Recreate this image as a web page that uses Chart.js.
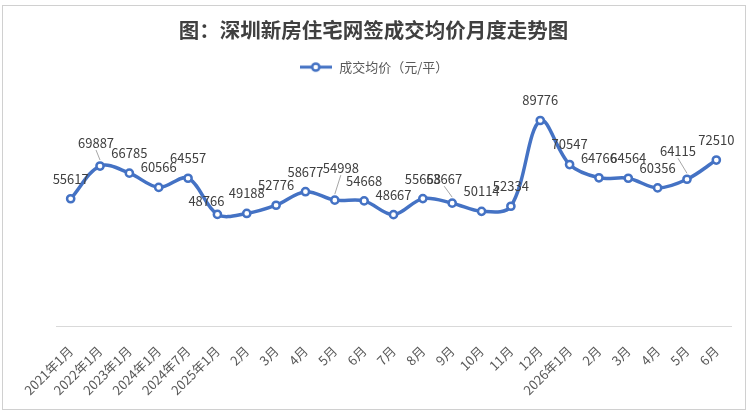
<!DOCTYPE html>
<html>
<head>
<meta charset="utf-8">
<script src="https://cdn.jsdelivr.net/npm/chart.js@4.4.1/dist/chart.umd.min.js"></script>
<style>
  html, body { margin: 0; padding: 0; background: #fff; }
  #wrap { width: 750px; height: 415px; }
</style>
</head>
<body>
<div id="wrap"><canvas id="priceChart"></canvas></div>
<script>
// data
const months = [
  "2021年1月", "2022年1月", "2023年1月", "2024年1月", "2024年7月",
  "2025年1月", "2月", "3月", "4月", "5月", "6月", "7月", "8月", "9月",
  "10月", "11月", "12月", "2026年1月", "2月", "3月", "4月", "5月", "6月"
];
const avgPrice = [
  55617, 69887, 66785, 60566, 64557,
  48766, 49188, 52776, 58677, 54998, 54668, 48667, 55668, 53667,
  50114, 52334, 89776, 70547, 64766, 64564, 60356, 64115, 72510
];
const seriesName = "成交均价（元/平）";

const blue = "#4472C4";
const font = "'Noto Sans CJK SC', 'Noto Sans', sans-serif";

// labels that excel nudged away from the default spot (index: [dx, dy, leader])
const labelNudge = {
  1: [-4, -23, true],
  5: [-11, -13, false],
  9: [6, -32, true],
  13: [-8, -24, true],
  21: [-9, -28, true]
};

// legend marker: line with hollow circle
const legendIcon = document.createElement("canvas");
legendIcon.width = 32;
legendIcon.height = 12;
(function () {
  const c = legendIcon.getContext("2d");
  c.strokeStyle = blue;
  c.lineWidth = 3;
  c.beginPath();
  c.moveTo(0, 6);
  c.lineTo(32, 6);
  c.stroke();
  c.fillStyle = "#fff";
  c.lineWidth = 2.5;
  c.beginPath();
  c.arc(16, 6, 3.6, 0, Math.PI * 2);
  c.fill();
  c.stroke();
})();

const frame = {
  id: "frame",
  beforeDraw(chart) {
    const ctx = chart.ctx;
    ctx.save();
    ctx.fillStyle = "#fff";
    ctx.fillRect(0, 0, chart.width, chart.height);
    ctx.strokeStyle = "#d0d0d0";
    ctx.lineWidth = 1;
    ctx.strokeRect(2.5, 5.5, 743, 404);
    ctx.restore();
  }
};

const legendGap = {
  id: "legendGap",
  beforeInit(chart) {
    const fit = chart.legend.fit;
    chart.legend.fit = function () {
      fit.bind(chart.legend)();
      this.height += 13.5;
    };
  }
};

const valueLabels = {
  id: "valueLabels",
  afterDatasetsDraw(chart) {
    const ctx = chart.ctx;
    const meta = chart.getDatasetMeta(0);
    ctx.save();
    ctx.font = "13px " + font;
    ctx.fillStyle = "#404040";
    ctx.textAlign = "center";
    ctx.textBaseline = "middle";
    meta.data.forEach((pt, i) => {
      const n = labelNudge[i] || [0, -20, false];
      const x = pt.x + n[0];
      const y = pt.y + n[1];
      if (n[2]) {
        ctx.strokeStyle = "#a6a6a6";
        ctx.lineWidth = 1;
        ctx.beginPath();
        ctx.moveTo(x, y + 7);
        ctx.lineTo(pt.x, pt.y - 6);
        ctx.stroke();
      }
      ctx.fillText(String(avgPrice[i]), x, y);
    });
    ctx.restore();
  }
};

const ctx = document.getElementById("priceChart").getContext("2d");
const priceChart = new Chart(ctx, {
  type: "line",
  data: {
    labels: months,
    datasets: [
      {
        label: seriesName,
        data: avgPrice,
        borderColor: blue,
        borderWidth: 3.5,
        tension: 0.35,
        pointRadius: 3.6,
        pointBorderWidth: 2.5,
        pointBackgroundColor: "#fff",
        pointBorderColor: blue,
        pointStyle: "circle"
      }
    ]
  },
  options: {
    responsive: true,
    maintainAspectRatio: false,
    animation: false,
    layout: { padding: { top: 14, right: 19, left: 16, bottom: 0 } },
    scales: {
      x: {
        offset: true,
        grid: { display: false, drawTicks: false },
        border: { display: true, color: "#d9d9d9", width: 1 },
        ticks: {
          color: "#595959",
          font: { family: font, size: 13 },
          minRotation: 45,
          maxRotation: 45,
          autoSkip: false,
          padding: 17
        }
      },
      y: {
        // invisible, only reserves the left margin
        display: true,
        min: 0,
        max: 100000,
        grid: { display: false },
        border: { display: false },
        ticks: { display: false },
        afterFit(scale) {
          scale.width = 40;
        }
      }
    },
    plugins: {
      title: {
        display: true,
        text: "图：深圳新房住宅网签成交均价月度走势图",
        color: "#404040",
        font: { family: font, size: 20.5, weight: "bold" },
        padding: { top: 4, bottom: 8 }
      },
      legend: {
        display: true,
        labels: {
          color: "#595959",
          font: { family: font, size: 13 },
          usePointStyle: true,
          pointStyleWidth: 34,
          generateLabels(chart) {
            return [{
              text: seriesName,
              pointStyle: legendIcon,
              fontColor: "#595959",
              datasetIndex: 0,
              hidden: false,
              lineWidth: 0
            }];
          }
        }
      },
      tooltip: { enabled: false }
    }
  },
  plugins: [frame, legendGap, valueLabels]
});
</script>
</body>
</html>
